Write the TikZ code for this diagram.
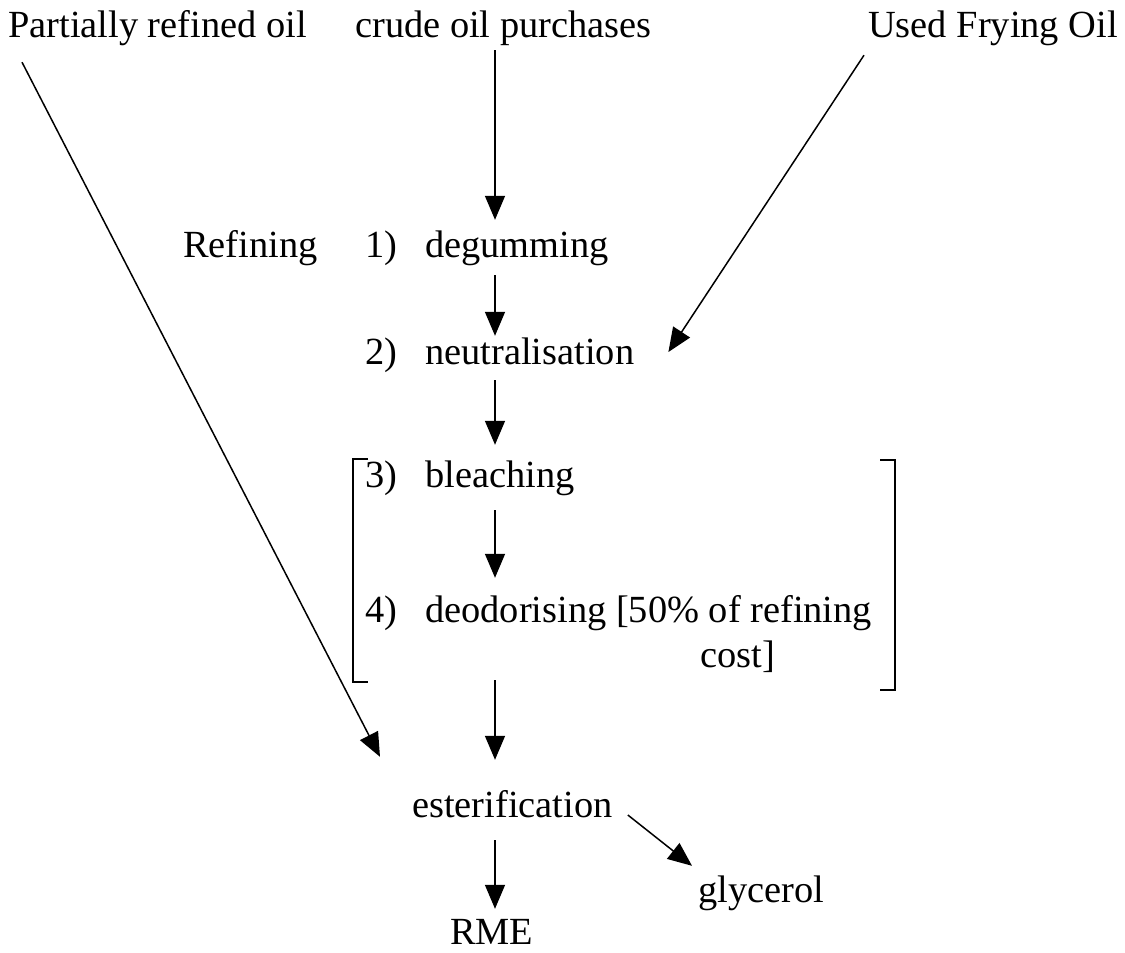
\documentclass[tikz,border=0pt]{standalone}
\usepackage{fontspec}
\setmainfont{Liberation Serif}
\usetikzlibrary{arrows.meta}

\newcommand\stepno[1]{\makebox[60pt][l]{#1}}

\begin{document}
\begin{tikzpicture}[x=1pt, y=-1pt,
    font=\fontsize{38.4}{46}\selectfont,
    lbl/.style={anchor=base west, inner xsep=0pt, inner ysep=2pt,
      text height=26pt, text depth=8pt},
    flow/.style={-{Triangle[length=24pt,width=20pt]}, line width=1.5pt},
    brk/.style={line width=1.5pt}]
  \useasboundingbox (0,0) rectangle (1125,953);
  \coordinate (col) at (495,0);

  % sources
  \node[lbl] (part) at (8,37) {Partially refined oil};
  \node[lbl] (crude) at (355,37) {crude oil purchases};
  \node[lbl, anchor=base east] (used) at (1118,37) {Used Frying Oil};

  % refining steps
  \node[lbl] (refin) at (183,257) {Refining};
  \node[lbl] (deg) at (365,257) {\stepno{1)}degumming};
  \node[lbl] (neut) at (365,364) {\stepno{2)}neutralisation};
  \node[lbl] (bleach) at (365,487) {\stepno{3)}bleaching};
  \node[lbl] (deod) at (365,622) {\stepno{4)}deodorising [50\% of refining};
  \node[lbl] (cost) at (700,667) {cost]};

  % products
  \node[lbl] (ester) at (412,817) {esterification};
  \node[lbl] (glyc) at (698,902) {glycerol};
  \node[lbl, text depth=0pt] (rme) at (450,944) {RME};

  \draw[flow, shorten <=3pt, shorten >=9pt] (crude.south -| col) -- (deg.north -| col);
  \draw[flow, shorten <=8pt] (deg.south -| col) -- (neut.north -| col);
  \draw[flow, shorten <=6pt, shorten >=14pt] (neut.south -| col) -- (bleach.north -| col);
  \draw[flow, shorten <=13pt, shorten >=16pt] (bleach.south -| col) -- (deod.north -| col);
  \draw[flow, shorten <=48pt, shorten >=29pt] (deod.south -| col) -- (ester.north -| col);
  \draw[flow, shorten <=13pt, shorten >=7pt] (ester.south -| col) -- (rme.north -| col);
  \draw[flow] ([xshift=14pt,yshift=-15pt]part.south west)
    -- ([xshift=-32pt,yshift=32pt]ester.north west);
  \draw[flow] ([xshift=-4pt,yshift=-8pt]used.south west)
    -- ([xshift=34pt,yshift=3pt]neut.east);
  \draw[flow] ([xshift=15pt,yshift=-7pt]ester.east)
    -- ([xshift=-6pt,yshift=8pt]glyc.north west);

  % bracket round bleaching and deodorising
  \draw[brk] (368,459) -- (353,459) -- (353,682) -- (368,682);
  \draw[brk] (880,460) -- (895,460) -- (895,690) -- (880,690);
\end{tikzpicture}
\end{document}
